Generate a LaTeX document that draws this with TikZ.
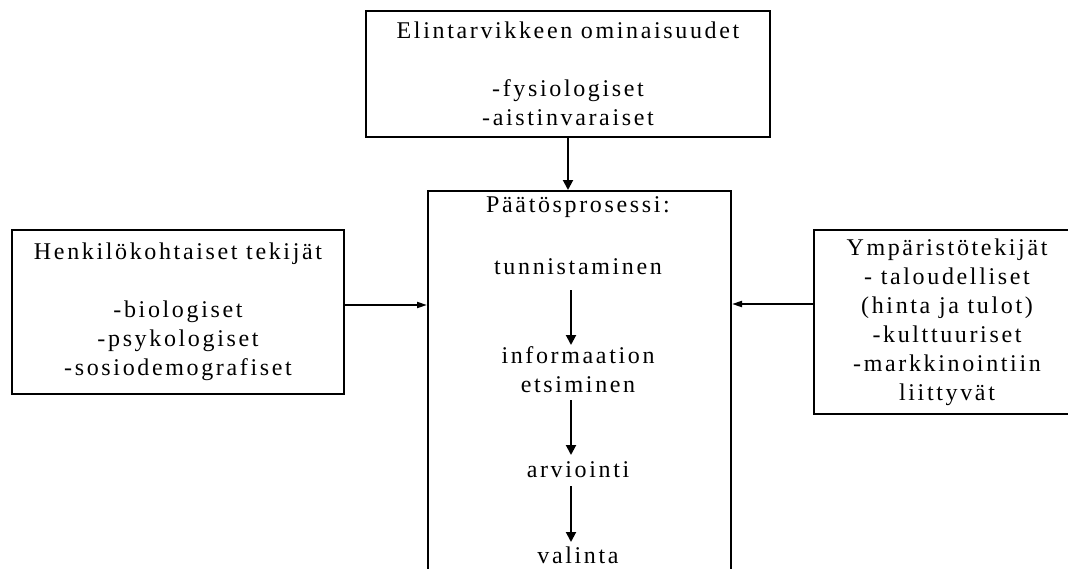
\documentclass[tikz,border=0pt]{standalone}
\usepackage{fontspec}
\setmainfont{Liberation Serif}[LetterSpace=11]
\usetikzlibrary{arrows.meta,calc}
\begin{document}
\begin{tikzpicture}[x=0.75pt,y=-0.75pt,
  box/.style={draw,line width=1.5pt,inner sep=0pt,align=center,
    font=\fontsize{18}{21.75}\selectfont},
  txt/.style={inner sep=0pt,align=center,font=\fontsize{18}{21.75}\selectfont},
  arr/.style={line width=1.5pt,-{Triangle[length=7.5pt,width=7.5pt]}},
  sarr/.style={line width=1.5pt,-{Triangle[length=7.5pt,width=4.5pt]}}]
\useasboundingbox (0,0) rectangle (1068,568);
\clip (0,0) rectangle (1068,568);
\node[box,minimum width=404*0.75pt,minimum height=126*0.75pt] (top) at (568,74)
  {Elintarvikkeen ominaisuudet\\[21.75pt]-fysiologiset\\-aistinvaraiset};
\node[box,minimum width=303*0.75pt,minimum height=409*0.75pt] (main) at (579.5,395.5) {};
\node[box,minimum width=332*0.75pt,minimum height=164*0.75pt] (lbox) at (178,312)
  {Henkilökohtaiset tekijät\\[21.75pt]-biologiset\\-psykologiset\\-sosiodemografiset};
\node[box,minimum width=266*0.75pt,minimum height=184*0.75pt] (rbox) at (947,322)
  {Ympäristötekijät\\- taloudelliset\\(hinta ja tulot)\\-kulttuuriset\\-markkinointiin\\liittyvät};
\node[txt] (head) at (578,207) {Päätösprosessi:};
\node[txt] (tun) at (578,267) {tunnistaminen};
\node[txt] (info) at (578,370) {informaation\\etsiminen};
\node[txt] (arv) at (578,470) {arviointi};
\node[txt] (val) at (578,555) {valinta};
\draw[arr] (top.south) -- (top.south |- main.north);
\draw[sarr] ([yshift=5.25pt]lbox.east) -- ([yshift=5.25pt]lbox.east -| main.west);
\draw[sarr] ([yshift=13.5pt]rbox.west) -- ([yshift=13.5pt]rbox.west -| main.east);
\draw[arr] ($(tun.center)+(-7,23)$) -- ($(info.center)+(-7,-25)$);
\draw[arr] ($(info.center)+(-7,30)$) -- ($(arv.center)+(-7,-15)$);
\draw[arr] ($(arv.center)+(-7,16)$) -- ($(val.center)+(-7,-13)$);
\end{tikzpicture}
\end{document}
